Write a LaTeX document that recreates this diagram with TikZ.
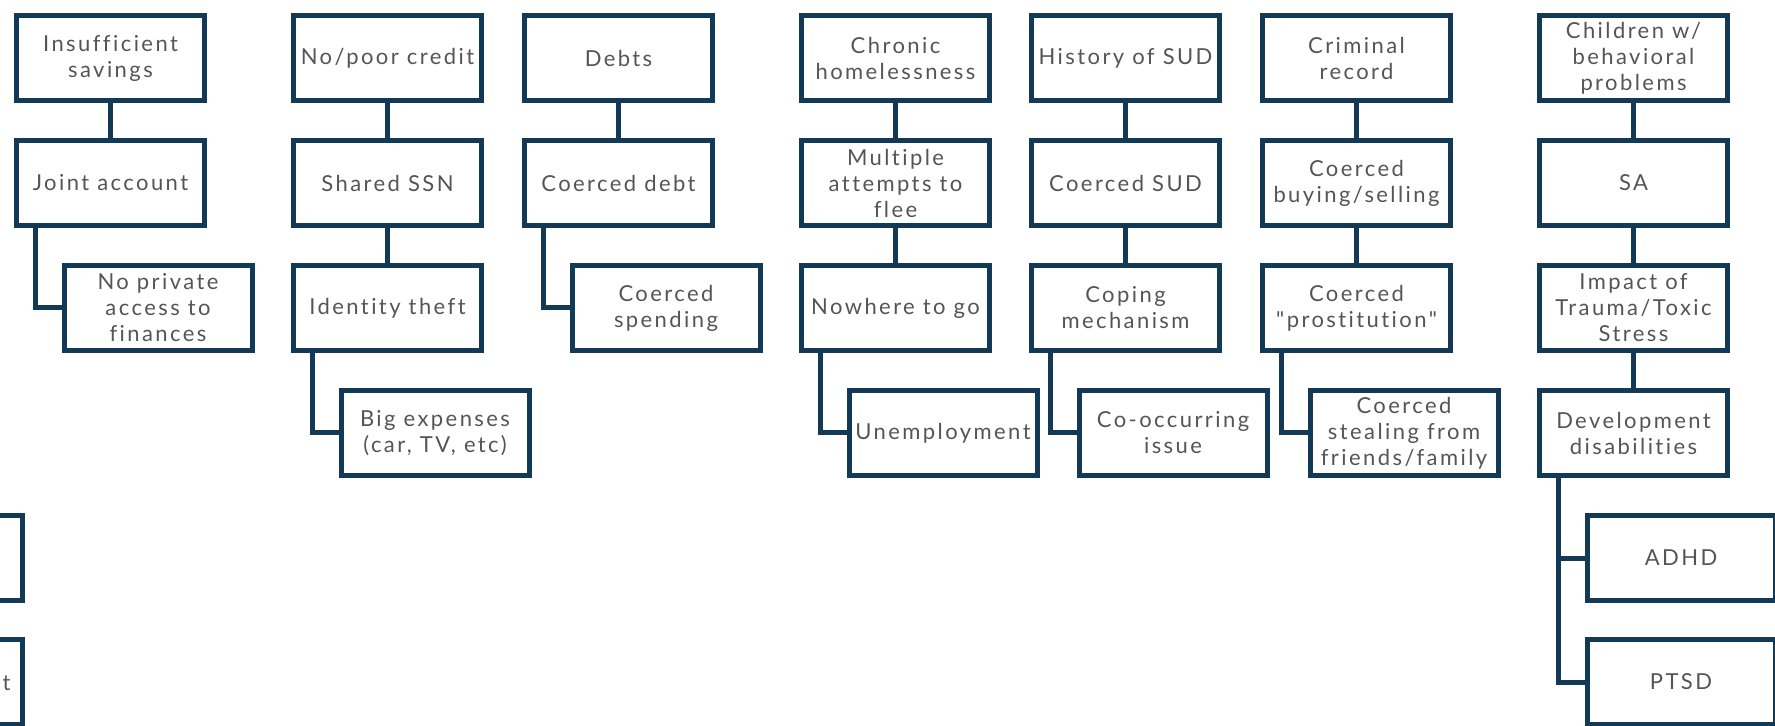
\documentclass[tikz,border=0pt]{standalone}
\usepackage{fontspec}
\newfontfamily\boxfont[LetterSpace=11,Ligatures={NoCommon,NoRare}]{Lato}
\usetikzlibrary{calc}
\definecolor{navy}{RGB}{18,58,86}
\definecolor{txt}{RGB}{85,85,85}
\begin{document}
\begin{tikzpicture}[x=0.5pt,y=-0.5pt,
  box/.style={draw=navy, line width=2.5pt, minimum width=94pt, minimum height=42.5pt,
    inner sep=0pt, align=center, text=txt, font=\boxfont\fontsize{11}{13}\selectfont},
  conn/.style={draw=navy, line width=2.5pt}]
\useasboundingbox (0,0) rectangle (1775,726);
\clip (0,0) rectangle (1775,726);
% column 1
\node[box] (a1) at (110.5,58) {Insufficient\\savings};
\node[box] (a2) at (110.5,183) {Joint account};
\node[box] (a3) at (158,308) {No private\\access to\\finances};
% column 2
\node[box] (b1) at (387.5,58) {No/poor credit};
\node[box] (b2) at (387.5,183) {Shared SSN};
\node[box] (b3) at (387.5,308) {Identity theft};
\node[box] (b4) at (435,433) {Big expenses\\(car, TV, etc)};
% column 3
\node[box] (c1) at (618.5,58) {Debts};
\node[box] (c2) at (618.5,183) {Coerced debt};
\node[box] (c3) at (666,308) {Coerced\\spending};
% column 4
\node[box] (d1) at (895.5,58) {Chronic\\homelessness};
\node[box] (d2) at (895.5,183) {Multiple\\attempts to\\flee};
\node[box] (d3) at (895.5,308) {Nowhere to go};
\node[box] (d4) at (943,433) {Unemployment};
% column 5
\node[box] (e1) at (1125.5,58) {History of SUD};
\node[box] (e2) at (1125.5,183) {Coerced SUD};
\node[box] (e3) at (1125.5,308) {Coping\\mechanism};
\node[box] (e4) at (1173,433) {Co-occurring\\issue};
% column 6
\node[box] (f1) at (1356.5,58) {Criminal\\record};
\node[box] (f2) at (1356.5,183) {Coerced\\buying/selling};
\node[box] (f3) at (1356.5,308) {Coerced\\"prostitution"};
\node[box] (f4) at (1404,433) {Coerced\\stealing from\\friends/family};
% column 7
\node[box] (g1) at (1633.5,58) {Children w/\\behavioral\\problems};
\node[box] (g2) at (1633.5,183) {SA};
\node[box] (g3) at (1633.5,308) {Impact of\\Trauma/Toxic\\Stress};
\node[box] (g4) at (1633.5,433) {Development\\disabilities};
\node[box] (g5) at (1681,558) {ADHD};
\node[box] (g6) at (1681,682) {PTSD};
% partial boxes at left edge
\node[box] (h1) at (-71.5,558) {};
\node[box] (h2) at (-71.5,682) {};
\node[text=txt, font=\boxfont\fontsize{11}{13}\selectfont, anchor=east, inner sep=0pt] (h2t) at (11,683) {t};
% vertical connectors
\draw[conn] (a1.south) -- (a2.north);
\draw[conn] (b1.south) -- (b2.north);
\draw[conn] (b2.south) -- (b3.north);
\draw[conn] (c1.south) -- (c2.north);
\draw[conn] (d1.south) -- (d2.north);
\draw[conn] (d2.south) -- (d3.north);
\draw[conn] (e1.south) -- (e2.north);
\draw[conn] (e2.south) -- (e3.north);
\draw[conn] (f1.south) -- (f2.north);
\draw[conn] (f2.south) -- (f3.north);
\draw[conn] (g1.south) -- (g2.north);
\draw[conn] (g2.south) -- (g3.north);
\draw[conn] (g3.south) -- (g4.north);
% elbow connectors
\draw[conn] ([xshift=10.5pt]a2.south west) |- (a3.west);
\draw[conn] ([xshift=10.5pt]b3.south west) |- (b4.west);
\draw[conn] ([xshift=10.5pt]c2.south west) |- (c3.west);
\draw[conn] ([xshift=10.5pt]d3.south west) |- (d4.west);
\draw[conn] ([xshift=10.5pt]e3.south west) |- (e4.west);
\draw[conn] ([xshift=10.5pt]f3.south west) |- (f4.west);
\draw[conn] ([xshift=10.5pt]g4.south west) |- (g5.west);
\draw[conn] ([xshift=10.5pt]g4.south west) |- (g6.west);
\end{tikzpicture}
\end{document}
